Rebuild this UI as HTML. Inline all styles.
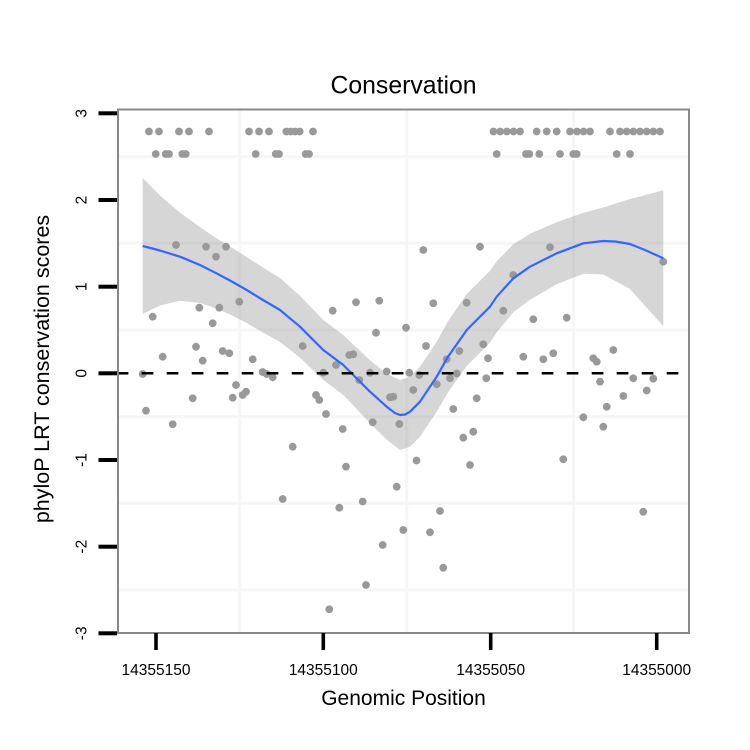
<!DOCTYPE html>
<html>
<head>
<meta charset="utf-8">
<style>
html,body{margin:0;padding:0;background:#fff;}
svg{display:block;}
text{font-family:"Liberation Sans",Arial,sans-serif;fill:#000;}
</style>
</head>
<body>
<svg width="750" height="750" viewBox="0 0 750 750" xmlns="http://www.w3.org/2000/svg">
<rect x="0" y="0" width="750" height="750" fill="#fff"/>
<!-- minor grid -->
<g stroke="#f6f6f6" stroke-width="3">
<line x1="118" y1="156.6" x2="689" y2="156.6"/>
<line x1="118" y1="243.3" x2="689" y2="243.3"/>
<line x1="118" y1="330" x2="689" y2="330"/>
<line x1="118" y1="416.6" x2="689" y2="416.6"/>
<line x1="118" y1="503.3" x2="689" y2="503.3"/>
<line x1="118" y1="590" x2="689" y2="590"/>
<line x1="239.8" y1="110" x2="239.8" y2="632"/>
<line x1="406.7" y1="110" x2="406.7" y2="632"/>
<line x1="573.7" y1="110" x2="573.7" y2="632"/>
</g>
<!-- points -->
<g fill="#999999">
<!-- top row -->
<circle cx="149" cy="131.5" r="3.9"/><circle cx="159" cy="131.5" r="3.9"/><circle cx="179" cy="131.5" r="3.9"/><circle cx="189" cy="131.5" r="3.9"/><circle cx="209" cy="131.5" r="3.9"/><circle cx="249" cy="131.5" r="3.9"/><circle cx="259" cy="131.5" r="3.9"/><circle cx="269" cy="131.5" r="3.9"/><circle cx="286.3" cy="131.5" r="3.9"/><circle cx="290.7" cy="131.5" r="3.9"/><circle cx="295" cy="131.5" r="3.9"/><circle cx="299.7" cy="131.5" r="3.9"/><circle cx="313" cy="131.5" r="3.9"/>
<circle cx="493.5" cy="131.5" r="3.9"/><circle cx="500.2" cy="131.5" r="3.9"/><circle cx="506.8" cy="131.5" r="3.9"/><circle cx="513.5" cy="131.5" r="3.9"/><circle cx="520" cy="131.5" r="3.9"/><circle cx="536.7" cy="131.5" r="3.9"/><circle cx="546.7" cy="131.5" r="3.9"/><circle cx="556.7" cy="131.5" r="3.9"/><circle cx="570" cy="131.5" r="3.9"/><circle cx="577" cy="131.5" r="3.9"/><circle cx="583.5" cy="131.5" r="3.9"/><circle cx="590" cy="131.5" r="3.9"/><circle cx="610" cy="131.5" r="3.9"/><circle cx="620" cy="131.5" r="3.9"/><circle cx="626.7" cy="131.5" r="3.9"/><circle cx="633.3" cy="131.5" r="3.9"/><circle cx="640" cy="131.5" r="3.9"/><circle cx="646.7" cy="131.5" r="3.9"/><circle cx="653.3" cy="131.5" r="3.9"/><circle cx="660" cy="131.5" r="3.9"/>
<!-- second row -->
<circle cx="155.7" cy="154" r="3.9"/><circle cx="165.7" cy="154" r="3.9"/><circle cx="169" cy="154" r="3.9"/><circle cx="182.3" cy="154" r="3.9"/><circle cx="185.7" cy="154" r="3.9"/><circle cx="255.7" cy="154" r="3.9"/><circle cx="275.7" cy="154" r="3.9"/><circle cx="279" cy="154" r="3.9"/><circle cx="305.7" cy="154" r="3.9"/><circle cx="309" cy="154" r="3.9"/>
<circle cx="496.7" cy="154" r="3.9"/><circle cx="526" cy="154" r="3.9"/><circle cx="529.3" cy="154" r="3.9"/><circle cx="539.3" cy="154" r="3.9"/><circle cx="560" cy="154" r="3.9"/><circle cx="573.3" cy="154" r="3.9"/><circle cx="576.7" cy="154" r="3.9"/><circle cx="616.7" cy="154" r="3.9"/><circle cx="630" cy="154" r="3.9"/>
<!-- others -->
<circle cx="176" cy="245" r="3.9"/><circle cx="206" cy="246.7" r="3.9"/><circle cx="226" cy="246.7" r="3.9"/><circle cx="216" cy="256.7" r="3.9"/>
<circle cx="239.3" cy="301.7" r="3.9"/><circle cx="152.7" cy="316.7" r="3.9"/><circle cx="199.3" cy="307.7" r="3.9"/><circle cx="219.3" cy="307.7" r="3.9"/><circle cx="212.7" cy="323.3" r="3.9"/>
<circle cx="332.7" cy="310.7" r="3.9"/><circle cx="356" cy="302.3" r="3.9"/><circle cx="379.3" cy="300.7" r="3.9"/><circle cx="376" cy="332.7" r="3.9"/><circle cx="302.7" cy="346" r="3.9"/>
<circle cx="196" cy="346.7" r="3.9"/><circle cx="162.7" cy="356.7" r="3.9"/><circle cx="222.7" cy="351" r="3.9"/><circle cx="229.3" cy="353.3" r="3.9"/><circle cx="202.7" cy="360.7" r="3.9"/><circle cx="252.7" cy="359.3" r="3.9"/>
<circle cx="142.7" cy="374" r="3.9"/><circle cx="262.7" cy="372" r="3.9"/><circle cx="266.7" cy="374" r="3.9"/><circle cx="272.7" cy="377.3" r="3.9"/><circle cx="323.3" cy="372.7" r="3.9"/><circle cx="336" cy="365" r="3.9"/><circle cx="349.3" cy="355" r="3.9"/><circle cx="353.3" cy="354.3" r="3.9"/><circle cx="359.3" cy="380" r="3.9"/><circle cx="370" cy="372.7" r="3.9"/><circle cx="236" cy="385" r="3.9"/>
<circle cx="146" cy="410.7" r="3.9"/><circle cx="172.7" cy="424.3" r="3.9"/><circle cx="192.7" cy="398.3" r="3.9"/><circle cx="232.7" cy="397.7" r="3.9"/><circle cx="242.7" cy="395" r="3.9"/><circle cx="246" cy="391.7" r="3.9"/><circle cx="316" cy="395" r="3.9"/><circle cx="319.3" cy="400" r="3.9"/><circle cx="326" cy="414" r="3.9"/><circle cx="342.7" cy="429" r="3.9"/><circle cx="292.7" cy="446.7" r="3.9"/><circle cx="346" cy="466.7" r="3.9"/><circle cx="282.7" cy="499" r="3.9"/><circle cx="339.3" cy="507.7" r="3.9"/><circle cx="362.7" cy="501.5" r="3.9"/><circle cx="366" cy="585" r="3.9"/><circle cx="329.3" cy="609.3" r="3.9"/><circle cx="372.7" cy="422.3" r="3.9"/>
<circle cx="423.3" cy="250" r="3.9"/><circle cx="480" cy="246.7" r="3.9"/><circle cx="550" cy="247.3" r="3.9"/><circle cx="663.3" cy="261.7" r="3.9"/><circle cx="513.3" cy="275" r="3.9"/><circle cx="433.3" cy="303.3" r="3.9"/><circle cx="466.7" cy="302.7" r="3.9"/><circle cx="503.3" cy="310.7" r="3.9"/><circle cx="533.3" cy="319.3" r="3.9"/><circle cx="566.7" cy="317.7" r="3.9"/>
<circle cx="406" cy="327.7" r="3.9"/><circle cx="426" cy="346" r="3.9"/><circle cx="483.3" cy="344.3" r="3.9"/><circle cx="459.3" cy="351" r="3.9"/><circle cx="446.7" cy="359.3" r="3.9"/><circle cx="488" cy="358.3" r="3.9"/><circle cx="523.3" cy="356.7" r="3.9"/><circle cx="543.3" cy="359.3" r="3.9"/><circle cx="553.3" cy="353.3" r="3.9"/><circle cx="593.3" cy="358.3" r="3.9"/><circle cx="596.7" cy="361.7" r="3.9"/><circle cx="613.3" cy="350" r="3.9"/>
<circle cx="386.7" cy="371.5" r="3.9"/><circle cx="409.3" cy="372.7" r="3.9"/><circle cx="419.3" cy="375" r="3.9"/><circle cx="456.7" cy="373.5" r="3.9"/><circle cx="450" cy="378.3" r="3.9"/><circle cx="436.7" cy="384.3" r="3.9"/><circle cx="413.3" cy="390" r="3.9"/><circle cx="486.3" cy="378.3" r="3.9"/><circle cx="600" cy="381.7" r="3.9"/><circle cx="633.3" cy="378.3" r="3.9"/><circle cx="653.3" cy="378.7" r="3.9"/><circle cx="646.7" cy="390.5" r="3.9"/><circle cx="623.3" cy="396" r="3.9"/><circle cx="606.7" cy="406.7" r="3.9"/><circle cx="583.3" cy="417.3" r="3.9"/><circle cx="603.3" cy="426.7" r="3.9"/><circle cx="563.3" cy="459.3" r="3.9"/><circle cx="643.3" cy="511.7" r="3.9"/>
<circle cx="390" cy="397.3" r="3.9"/><circle cx="393.3" cy="396.7" r="3.9"/><circle cx="476.7" cy="398.3" r="3.9"/><circle cx="453.3" cy="409" r="3.9"/><circle cx="399.3" cy="424" r="3.9"/><circle cx="463.3" cy="437.7" r="3.9"/><circle cx="473.3" cy="431.7" r="3.9"/><circle cx="416.5" cy="460.5" r="3.9"/><circle cx="470" cy="465" r="3.9"/><circle cx="396.7" cy="486.7" r="3.9"/><circle cx="440" cy="511" r="3.9"/><circle cx="403.3" cy="530" r="3.9"/><circle cx="430" cy="532.3" r="3.9"/><circle cx="382.7" cy="545" r="3.9"/><circle cx="443.3" cy="567.7" r="3.9"/>
</g>
<!-- confidence band -->
<polygon fill="#999999" fill-opacity="0.4" points="142.7,178 160,195.5 180,212.7 200,227 213.3,236.2 230,246.5 246.7,257 263,267.5 280,278 300,295.7 323.3,320 343.3,335 353.3,344.5 370,360.2 386.7,373.7 400,380 410,376.7 420,366.7 430,351.7 436.7,341.7 448,321.2 463.3,299 466.7,294 476.7,284 480,280.7 490,270.7 496.7,261.2 513.3,244.3 530,233.7 556.7,222.3 583.3,212.8 603.3,207.5 630,199 663.3,190.3 663.3,326.3 630,289 603.3,274.5 583.3,273.8 556.7,284.3 530,299.7 513.3,312.3 496.7,332.2 490,342.7 480,352.7 476.7,356 466.7,366 463.3,371 448,392.2 436.7,411.7 430,421.7 420,436.7 410,446.7 400,450 386.7,439.7 370,423.2 353.3,405.5 343.3,395 323.3,380 300,357.7 280,342 263,332.5 246.7,323 230,314.5 213.3,307.2 200,303 180,300.7 160,305.5 142.7,314"/>
<!-- smooth line -->
<polyline fill="none" stroke="#3366FF" stroke-width="2.2" stroke-linejoin="round" stroke-linecap="butt" points="142.7,246 160,250.5 180,256.7 200,265 213.3,271.7 230,280.5 246.7,290 263,300 280,310 300,326.7 323.3,350 343.3,365 353.3,375 370,391.7 386.7,406.7 395,413 400,415 405,414.5 410,411.7 420,401.7 430,386.7 436.7,376.7 448,356.7 463.3,335 466.7,330 476.7,320 480,316.7 490,306.7 496.7,296.7 513.3,278.3 530,266.7 556.7,253.3 583.3,243.3 603.3,241 615,241.5 630,244 645,250 663.3,258.3"/>
<!-- hline -->
<line x1="116.7" y1="373.3" x2="689" y2="373.3" stroke="#000" stroke-width="2.5" stroke-dasharray="11.7 13.3"/>
<!-- panel border -->
<rect x="118" y="109.5" width="571" height="523.5" fill="none" stroke="#888888" stroke-width="2"/>
<!-- y ticks -->
<g fill="#000">
<rect x="98.5" y="111.3" width="18.5" height="4"/>
<rect x="98.5" y="198" width="18.5" height="4"/>
<rect x="98.5" y="284.7" width="18.5" height="4"/>
<rect x="98.5" y="371.3" width="18.5" height="4"/>
<rect x="98.5" y="458" width="18.5" height="4"/>
<rect x="98.5" y="544.7" width="18.5" height="4"/>
<rect x="98.5" y="631.3" width="18.5" height="4"/>
<!-- x ticks -->
<rect x="154.2" y="633" width="3.6" height="17"/>
<rect x="321.5" y="633" width="3.6" height="17"/>
<rect x="488.9" y="633" width="3.6" height="17"/>
<rect x="654.9" y="633" width="3.6" height="17"/>
</g>
<!-- y tick labels -->
<g font-size="15.5" text-anchor="middle">
<text transform="translate(86.5,113.3) rotate(-90)">3</text>
<text transform="translate(86.5,200) rotate(-90)">2</text>
<text transform="translate(86.5,286.7) rotate(-90)">1</text>
<text transform="translate(86.5,373.3) rotate(-90)">0</text>
<text transform="translate(86.5,460) rotate(-90)">-1</text>
<text transform="translate(86.5,546.7) rotate(-90)">-2</text>
<text transform="translate(86.5,633.3) rotate(-90)">-3</text>
</g>
<!-- x tick labels -->
<g font-size="15.5" text-anchor="middle">
<text x="156" y="675">14355150</text>
<text x="323.3" y="675">14355100</text>
<text x="490.7" y="675">14355050</text>
<text x="656.7" y="675">14355000</text>
</g>
<!-- titles -->
<text x="403.5" y="93.3" font-size="24.8" text-anchor="middle">Conservation</text>
<text x="403.5" y="705" font-size="21" text-anchor="middle">Genomic Position</text>
<text transform="translate(49,369) rotate(-90)" font-size="21.5" text-anchor="middle">phyloP LRT conservation scores</text>
</svg>
</body>
</html>
